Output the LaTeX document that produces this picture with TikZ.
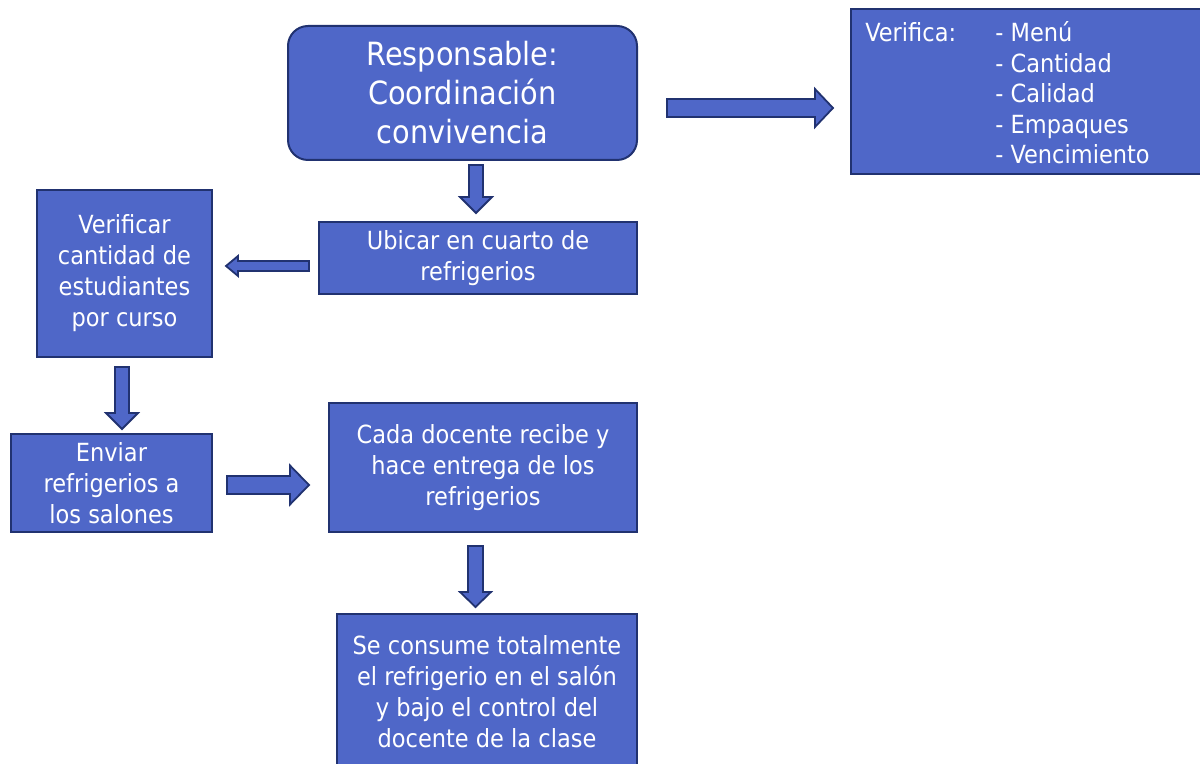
\documentclass[tikz,border=0pt]{standalone}
\usepackage{fontspec}
\setmainfont{DejaVu Sans Condensed}
\usetikzlibrary{calc}
\definecolor{boxblue}{RGB}{79,103,200}
\definecolor{boxline}{RGB}{33,50,112}
\tikzstyle{block} = [rectangle, draw=boxline, line width=1pt, fill=boxblue, text=white, align=center, font=\fontsize{12.5}{15.5}\selectfont]
\tikzstyle{fat} = [draw=boxline, line width=0.9pt, fill=boxblue, line join=miter]
% block arrow: start, end, half shaft, half head, head length
\newcommand{\fatarrow}[5]{%
\path (#1) coordinate (fa-s) (#2) coordinate (fa-e);
\path ($(fa-e)!#5!(fa-s)$) coordinate (fa-c);
\draw [fat] ($(fa-s)!#3!90:(fa-e)$) -- ($(fa-c)!#3!90:(fa-e)$) -- ($(fa-c)!#4!90:(fa-e)$) -- (fa-e) -- ($(fa-c)!#4!-90:(fa-e)$) -- ($(fa-c)!#3!-90:(fa-e)$) -- ($(fa-s)!#3!-90:(fa-e)$) -- cycle;}

\begin{document}
\begin{tikzpicture}[x=0.5pt, y=-0.5pt]
\useasboundingbox (0,0) rectangle (1200,764);
\clip (0,0) rectangle (1200,764);
\node [block, rounded corners=10pt, minimum width=174.5pt, minimum height=67pt, font=\fontsize{16}{19.5}\selectfont] (resp) at (462.5,93) {Responsable:\\Coordinación\\convivencia};
\node [block, minimum width=176pt, minimum height=82.5pt] (verif) at (1027,91.5) {};
\node [anchor=north west, text=white, inner sep=0pt, font=\fontsize{12.5}{15.25}\selectfont] (veriftext) at (865,20) {\begin{tabular}{@{}p{65pt}@{}l@{}}Verifica: & - Menú\\ & - Cantidad\\ & - Calidad\\ & - Empaques\\ & - Vencimiento\end{tabular}};
\node [block, minimum width=159pt, minimum height=36pt] (ubicar) at (478,258) {Ubicar en cuarto de\\refrigerios};
\node [block, minimum width=87.5pt, minimum height=83.5pt] (cantidad) at (124.5,273.5) {Verificar\\cantidad de\\estudiantes\\por curso};
\node [block, minimum width=100.5pt, minimum height=49pt] (enviar) at (111.5,483) {Enviar\\refrigerios a\\los salones};
\node [block, minimum width=154pt, minimum height=64.5pt] (docente) at (483,467.5) {Cada docente recibe y\\hace entrega de los\\refrigerios};
\node [block, minimum width=150pt, minimum height=78pt] (consume) at (487,692) {Se consume totalmente\\el refrigerio en el salón\\y bajo el control del\\docente de la clase};

\fatarrow{$(resp.east)+(29,15)$}{$(verif.west)+(-17,16.5)$}{4.5pt}{9.5pt}{9pt}
\fatarrow{$(ubicar.north)+(-2,-56)$}{$(ubicar.north)+(-2,-8)$}{3.5pt}{8pt}{8pt}
\fatarrow{$(ubicar.west)+(-9,8)$}{$(cantidad.east)+(13,-7.5)$}{2.5pt}{5pt}{6pt}
\fatarrow{$(cantidad.south)+(-2.5,9)$}{$(enviar.north)+(10.5,-4)$}{3.5pt}{8pt}{8pt}
\fatarrow{$(enviar.east)+(14,2)$}{$(docente.west)+(-19,17.5)$}{4.5pt}{9.75pt}{9.5pt}
\fatarrow{$(docente.south)+(-7.5,13)$}{$(consume.north)+(-11.5,-6)$}{3.75pt}{7.75pt}{7.5pt}
\end{tikzpicture}
\end{document}
